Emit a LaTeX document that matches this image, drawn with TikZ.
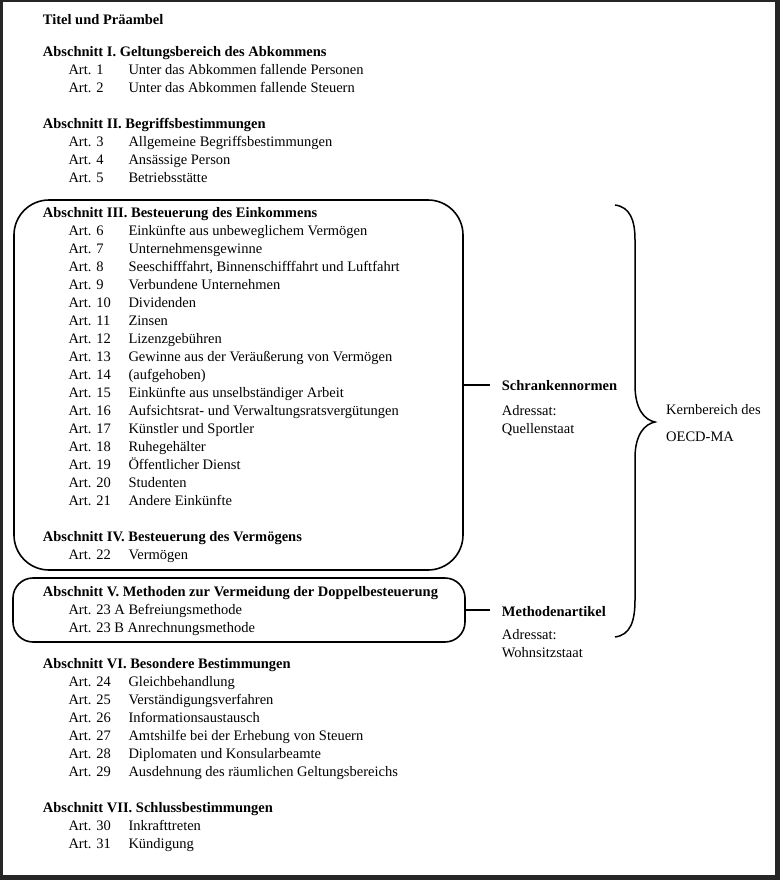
\documentclass[tikz,border=0pt]{standalone}
\usepackage{fontspec}
\setmainfont{Liberation Serif}
\begin{document}
\begin{tikzpicture}[x=1pt,y=-1pt,
  txt/.style={anchor=base west, inner sep=0pt, font=\fontsize{14.5}{18}\selectfont},
  hd/.style={anchor=base west, inner sep=0pt, font=\fontsize{14.5}{18}\selectfont\bfseries},
  grp/.style={draw, line width=1.6pt, inner sep=0pt},
  conn/.style={line width=1.4pt}]
\useasboundingbox (0,0) rectangle (780,880);
% outer frame
\fill[black!85] (0,0) rectangle (780,880);
\fill[white] (3,2.5) rectangle (775,875);
% group boxes
\node[grp, rounded corners=35pt, minimum width=449pt, minimum height=370pt] (boxA) at (238.5,385) {};
\node[grp, rounded corners=20pt, minimum width=452pt, minimum height=64pt] (boxB) at (239,610) {};
% headings
\node[hd] (h0) at (42.7,25) {Titel und Präambel};
\node[hd] (h1) at (42.7,56.7) {Abschnitt I. Geltungsbereich des Abkommens};
\node[hd] (h2) at (42.7,128.4) {Abschnitt II. Begriffsbestimmungen};
\node[hd] (h3) at (42.7,217.3) {Abschnitt III. Besteuerung des Einkommens};
\node[hd] (h4) at (42.7,541) {Abschnitt IV. Besteuerung des Vermögens};
\node[hd] (h5) at (42.7,596) {Abschnitt V. Methoden zur Vermeidung der Doppelbesteuerung};
\node[hd] (h6) at (42.7,668.5) {Abschnitt VI. Besondere Bestimmungen};
\node[hd] (h7) at (42.7,812) {Abschnitt VII. Schlussbestimmungen};
% articles
\foreach \n/\t [count=\i from 0] in {1/Unter das Abkommen fallende Personen, 2/Unter das Abkommen fallende Steuern}{
  \node[txt] (a\n) at (68.3,{74.7+17.95*\i}) {Art. \n};
  \node[txt] (d\n) at (128.3,{74.7+17.95*\i}) {\t};}
\foreach \n/\t [count=\i from 0] in {3/Allgemeine Begriffsbestimmungen, 4/Ansässige Person, 5/Betriebsstätte}{
  \node[txt] (a\n) at (68.3,{146.5+17.95*\i}) {Art. \n};
  \node[txt] (d\n) at (128.3,{146.5+17.95*\i}) {\t};}
\foreach \n/\t [count=\i from 0] in {6/Einkünfte aus unbeweglichem Vermögen, 7/Unternehmensgewinne,
  8/{Seeschifffahrt, Binnenschifffahrt und Luftfahrt}, 9/Verbundene Unternehmen, 10/Dividenden,
  11/Zinsen, 12/Lizenzgebühren, 13/Gewinne aus der Veräußerung von Vermögen, 14/(aufgehoben),
  15/Einkünfte aus unselbständiger Arbeit, 16/Aufsichtsrat- und Verwaltungsratsvergütungen,
  17/Künstler und Sportler, 18/Ruhegehälter, 19/Öffentlicher Dienst, 20/Studenten, 21/Andere Einkünfte}{
  \node[txt] (a\n) at (68.3,{235+18*\i}) {Art. \n};
  \node[txt] (d\n) at (128.3,{235+18*\i}) {\t};}
\node[txt] (a22) at (68.3,559) {Art. 22};
\node[txt] (d22) at (128.3,559) {Vermögen};
\node[txt] (a23a) at (68.3,614) {Art. 23 A Befreiungsmethode};
\node[txt] (a23b) at (68.3,632.5) {Art. 23 B Anrechnungsmethode};
\foreach \n/\t [count=\i from 0] in {24/Gleichbehandlung, 25/Verständigungsverfahren, 26/Informationsaustausch,
  27/Amtshilfe bei der Erhebung von Steuern, 28/Diplomaten und Konsularbeamte,
  29/Ausdehnung des räumlichen Geltungsbereichs}{
  \node[txt] (a\n) at (68.3,{686.7+17.95*\i}) {Art. \n};
  \node[txt] (d\n) at (128.3,{686.7+17.95*\i}) {\t};}
\foreach \n/\t [count=\i from 0] in {30/Inkrafttreten, 31/Kündigung}{
  \node[txt] (a\n) at (68.3,{830+18*\i}) {Art. \n};
  \node[txt] (d\n) at (128.3,{830+18*\i}) {\t};}
% right side labels
\node[hd] (schr) at (501.7,390) {Schrankennormen};
\node[txt] (adr1) at (501.7,415) {Adressat:};
\node[txt] (qst) at (501.7,433) {Quellenstaat};
\node[hd] (meth) at (501.7,616) {Methodenartikel};
\node[txt] (adr2) at (501.7,639.3) {Adressat:};
\node[txt] (wst) at (501.7,657.5) {Wohnsitzstaat};
\node[txt] (kern) at (666,414) {Kernbereich des};
\node[txt] (oecd) at (666,441.7) {OECD-MA};
% connectors
\coordinate (c1) at (490,385);
\coordinate (c2) at (490,610);
\draw[conn] (boxA.east) -- (c1);
\draw[conn] (boxB.east) -- (c2);
% brace
\draw[line width=1.5pt] (615,205) .. controls (630,207) and (635,220) .. (635,240)
  -- (635,385) .. controls (635,410) and (645,420) .. (655,422)
  .. controls (645,424) and (635,434) .. (635,458)
  -- (635,600) .. controls (635,622) and (630,635) .. (615,637);
\end{tikzpicture}
\end{document}
